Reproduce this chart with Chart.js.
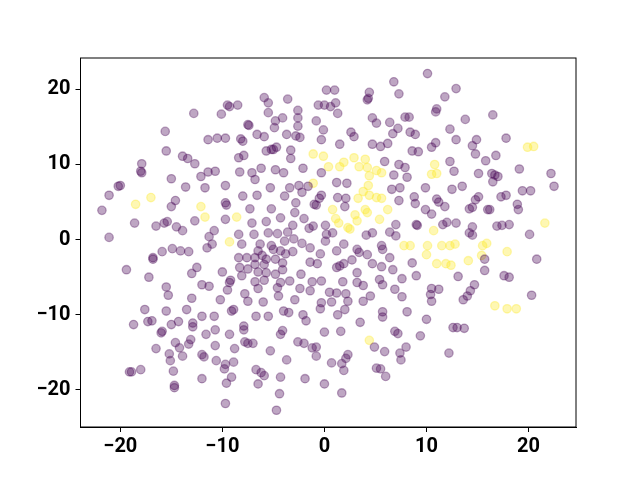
<!DOCTYPE html>
<html>
<head>
<meta charset="utf-8">
<script src="https://cdn.jsdelivr.net/npm/chart.js@4/dist/chart.umd.min.js"></script>
<style>
  html, body { margin: 0; padding: 0; background: #fff; }
  canvas { display: block; }
</style>
</head>
<body>
<canvas id="scatterChart" width="640" height="480"></canvas>
<script>
// class 0 (dark purple) points
const purple = [
  [-12.8,16.8],[-15.6,14.4],[-15.5,11.8],[-13.9,11.1],[-13.4,10.8],[-12.7,10.1],[-17.9,10.1],[-18.0,9.1],[-17.9,8.9],[-15.0,8.1],[-12.1,8.4],[-11.4,13.3],[-11.4,9.0],
  [-20.2,7.1],[-20.0,7.2],[-21.1,5.9],[-21.8,3.9],[-13.6,7.0],[-11.7,6.9],[-14.6,5.2],[-15.0,4.4],[-18.6,2.2],[-16.5,1.8],[-15.7,2.2],[-15.4,2.4],[-14.5,1.7],[-13.9,1.2],[-12.7,2.5],[-21.1,0.3],[-15.9,-1.6],[-16.8,-2.4],[-16.8,-2.6],[-14.9,-1.2],[-14.1,-1.5],[-13.3,-1.6],[-12.5,-3.7],[-13.0,-4.5],[-19.4,-4.0],[-17.2,-5.0],[-12.0,-6.0],[-15.5,-6.3],[-15.3,-7.4],[-13.0,-7.8],
  [-17.6,-9.3],[-15.5,-9.5],[-13.5,-9.3],[-12.0,-10.2],[-18.7,-11.3],[-17.3,-10.9],[-16.9,-10.8],[-15.9,-12.2],[-16.0,-12.4],[-15.0,-11.3],[-14.3,-10.9],[-12.9,-11.1],[-12.9,-11.6],[-16.5,-14.5],[-14.6,-13.7],[-14.2,-14.4],[-13.3,-13.9],[-13.1,-13.3],[-15.2,-15.2],[-15.1,-16.1],[-13.9,-15.5],[-12.0,-15.3],[-11.8,-15.6],[-19.1,-17.6],[-18.9,-17.6],[-18.0,-17.3],[-14.8,-17.5],[-14.7,-19.4],[-14.7,-19.7],[-12.0,-18.5],
  [-10.1,16.7],[-9.5,17.9],[-9.3,17.7],[-8.5,17.9],[-5.9,18.9],[-5.5,18.2],[-3.6,18.7],[0.2,19.9],[-0.6,17.9],[0.0,17.9],[0.6,17.7],[-5.5,16.9],[-4.1,16.2],[-4.8,15.8],[-4.9,14.9],[-2.6,17.2],[-2.6,16.2],[-2.6,15.1],[-0.8,15.8],[-7.5,15.3],[-7.4,15.2],[-0.1,14.6],[-6.6,14.0],[-5.9,13.7],[-3.7,14.0],[-2.8,13.8],[-2.4,13.6],[-0.3,13.3],[-10.5,13.5],[-9.7,13.5],[-8.2,13.4],[-8.0,13.1],[-5.7,11.8],[-5.2,12.0],[-4.7,12.3],[-5.0,12.0],[-3.3,11.9],[-3.3,10.8],[-8.4,10.9],[-7.9,11.2],[-6.2,9.5],[-7.1,8.9],[-8.3,9.0],[-10.7,9.1],[-4.8,9.3],[-4.0,8.9],[-2.1,9.5],[-0.3,8.9],[-6.8,8.0],
  [10.1,22.1],[6.8,21.0],[7.3,19.4],[1.0,19.9],[4.4,19.6],[4.2,18.6],[4.3,18.8],[1.1,18.2],[1.3,16.8],[11.8,19.0],[12.9,20.1],[11.0,17.4],[10.9,17.0],[4.7,16.2],[5.1,15.5],[6.4,15.6],[7.9,16.3],[8.3,16.3],[7.2,14.8],[6.7,14.1],[8.4,14.3],[8.9,14.0],[12.3,14.7],[12.9,13.3],[10.9,12.9],[10.5,12.3],[2.6,14.3],[2.9,13.7],[1.5,12.7],[4.7,12.7],[5.5,12.4],[6.2,12.8],[8.6,11.8],[9.2,11.7],[5.9,10.4],[7.3,10.0],[7.9,9.6],[6.8,8.6],[8.1,8.3],[12.3,10.4],[12.7,9.1],[1.2,7.6],[2.2,7.5],
  [16.5,16.6],[13.8,16.0],[17.8,13.5],[14.9,13.3],[14.5,12.5],[14.8,11.4],[15.8,10.5],[16.8,11.2],[19.1,9.4],[22.2,8.8],[15.1,8.8],[16.4,8.8],[16.7,8.6],[17.0,8.4],
  [-9.7,7.2],[-5.3,6.9],[-3.4,6.9],[-2.5,7.2],[-1.6,7.1],[-8.0,5.8],[-6.6,5.9],[-3.9,5.8],[-2.2,6.3],[-0.3,5.9],[-0.5,5.5],[-9.7,4.9],[-9.6,4.6],[-7.3,4.1],[-5.2,4.1],[-2.8,4.9],[-1.0,4.7],[-0.8,4.6],[-9.7,2.7],[-4.3,2.9],[-2.9,3.6],[-2.0,2.8],[-7.1,2.2],[-5.7,2.4],[-3.1,1.9],[-1.5,1.5],[-1.1,1.8],[0.1,1.9],[-10.8,1.2],[-8.4,0.7],[-6.9,0.7],[-5.5,0.9],[-4.6,0.8],[-3.6,1.0],[-11.3,0.4],[-8.1,-0.6],[-11.0,-0.6],[-6.3,-0.6],[-5.2,-0.8],[-5.0,-1.3],[-3.9,-0.2],[-3.0,0.1],[-2.2,-0.5],[-1.4,-1.1],[0.1,-0.2],[0.2,0.7],[-6.5,-1.5],[-6.1,-2.1],[-4.3,-1.5],[-3.8,-1.9],[-3.1,-1.6],[-0.4,-1.9],[-11.5,-1.1],[-8.4,-2.4],[-7.6,-2.4],[-6.8,-2.4],[-5.7,-2.6],[-4.8,-2.6],[-4.1,-3.1],[-5.9,-3.3],[-6.8,-3.3],[-8.3,-3.7],[-7.5,-3.9],[-1.4,-3.0],[-0.7,-3.2],[-10.0,-4.3],[-6.5,-4.3],[-5.7,-4.4],[-4.8,-4.6],[-4.1,-4.0],[-2.3,-4.6],[-8.1,-4.8],[-9.2,-5.4],[-6.8,-5.6],[-5.9,-5.4],[-4.3,-5.7],[-3.4,-5.5],[-1.2,-5.6],[-0.3,-5.5],[-11.3,-6.2],[-9.3,-5.7],[-9.5,-6.7],[-6.5,-6.5],[-4.6,-6.4],[-2.4,-6.5],[-1.4,-6.8],[0.5,-7.0],[-7.8,-7.2],[-4.5,-7.5],[-10.2,-8.0],[-7.5,-8.2],[-6.0,-8.3],[-2.9,-8.0],[-0.3,-8.4],
  [-10.8,-10.2],[-9.1,-9.5],[-8.9,-9.3],[-6.7,-10.2],[-5.5,-10.2],[-4.0,-9.5],[-3.5,-9.7],[-2.1,-10.0],[-1.8,-10.8],[-0.4,-9.2],[-11.6,-12.6],[-10.7,-12.0],[-9.3,-12.6],[-7.9,-11.5],[-7.9,-12.0],[-7.8,-13.6],[-7.5,-13.8],[-7.0,-13.8],[-10.7,-14.1],[-8.8,-14.5],[-10.6,-16.1],[-9.7,-16.6],[-9.8,-17.2],[-8.9,-16.3],[-9.1,-18.3],[-9.6,-19.1],[-9.7,-21.8],[-6.7,-17.3],[-6.2,-17.7],[-5.9,-18.1],[-6.5,-19.2],[-5.3,-14.8],[-4.1,-12.1],[-4.3,-12.6],[-3.7,-16.0],[-4.3,-18.3],[-4.4,-20.5],[-4.7,-22.7],[-2.6,-13.6],[-2.0,-13.8],[-1.2,-14.4],[-0.8,-14.3],[-0.8,-15.5],[0.0,-12.3],[-1.9,-18.5],[0.0,-19.2],
  [1.3,-10.0],[2.0,-9.3],[5.7,-9.6],[5.7,-10.3],[8.1,-9.6],[3.5,-11.0],[10.0,-10.6],[12.6,-11.7],[13.0,-11.7],[13.7,-11.8],[1.6,-12.2],[6.9,-12.2],[7.2,-12.5],[9.4,-12.8],[4.9,-14.3],[5.9,-14.9],[8.0,-14.3],[7.4,-15.1],[7.5,-16.0],[12.2,-15.1],[2.3,-15.3],[2.1,-15.8],[0.7,-16.4],[1.7,-16.5],[1.9,-17.4],[5.1,-17.1],[5.5,-17.2],[6.0,-18.2],[1.7,-20.4],
  [6.6,6.7],[7.4,6.9],[9.9,6.9],[12.5,6.7],[1.3,5.6],[2.1,5.5],[2.0,4.4],[7.3,5.2],[8.8,5.7],[8.9,4.8],[11.0,5.4],[11.2,5.0],[11.8,4.4],[9.9,4.0],[10.5,3.4],[7.0,2.0],[9.0,2.0],[9.1,1.9],[11.6,2.0],[12.0,2.3],[0.8,0.9],[4.1,0.6],[4.7,0.9],[6.4,1.0],[7.0,0.5],[1.9,-0.6],[1.2,-1.5],[3.2,-1.3],[3.4,-1.7],[4.2,-2.0],[5.6,-0.8],[5.7,-1.3],[2.7,-2.7],[1.9,-3.2],[1.2,-3.7],[1.5,-3.5],[4.7,-3.2],[5.6,-3.6],[6.4,-2.4],[8.6,-3.1],[3.2,-4.4],[6.7,-4.0],[9.0,-4.8],[1.8,-5.6],[3.2,-5.7],[3.8,-6.1],[5.4,-5.3],[5.7,-6.0],[7.6,-5.2],[4.5,-7.5],[6.9,-6.6],[7.6,-7.6],[10.5,-6.5],[11.2,-6.6],[10.4,-7.3],[10.5,-8.2],[1.2,-7.1],[2.1,-7.2],[2.3,-8.2],[3.8,-8.2],[0.7,-8.3],
  [13.5,7.1],[16.5,7.7],[19.4,6.5],[20.2,6.5],[22.5,7.1],[15.1,5.7],[14.8,5.3],[14.2,4.1],[14.5,4.3],[16.0,4.0],[16.2,4.0],[17.3,5.7],[17.8,5.9],[18.9,4.7],[19.0,4.0],[12.9,2.2],[14.5,1.7],[14.2,0.9],[14.5,0.6],[16.9,1.8],[17.4,1.9],[18.1,2.0],[20.1,0.7],[15.7,-2.6],[20.8,-2.6],[15.7,-4.1],[13.1,-4.9],[17.6,-4.8],[18.1,-5.0],[14.7,-6.0],[14.3,-6.8],[14.0,-7.5],[13.6,-8.0],[20.3,-7.4]
];

// class 1 (yellow) points
const yellow = [
  [-1.1,11.4],[-0.1,11.1],[0.4,9.7],[-1.1,7.5],[2.9,10.9],[1.9,10.3],[1.5,9.7],[4.0,10.7],[3.4,9.7],[4.2,9.6],[5.1,9.2],[5.6,8.9],[4.4,8.5],[10.8,10.0],[10.5,8.7],[11.0,8.8],[19.9,12.3],[20.5,12.4],
  [-17.0,5.6],[-18.5,4.7],[-12.1,4.4],[-11.7,3.0],[-8.6,3.0],[-9.3,-0.3],
  [4.3,7.2],[3.8,6.4],[4.4,5.9],[5.1,5.6],[5.6,5.5],[3.3,5.5],[0.8,4.0],[1.1,2.8],[1.4,2.2],[3.0,3.3],[3.2,2.5],[4.0,4.0],[4.2,3.6],[5.4,2.7],[6.2,4.0],[2.3,1.6],[2.5,1.4],
  [10.7,1.2],[7.8,-0.8],[8.4,-0.8],[10.1,-0.8],[10.0,-2.0],[11.5,-0.8],[12.3,-0.8],[12.8,-0.6],[11.0,-3.2],[11.9,-3.2],[12.4,-3.4],
  [21.6,2.2],[15.5,-0.8],[15.9,-0.5],[15.4,-2.1],[14.1,-2.8],[17.9,-1.6],[16.7,-8.8],[17.9,-9.2],[18.8,-9.2],[4.4,-13.4]
];

const xTicks = [-20, -10, 0, 10, 20];
const yTicks = [-20, -10, 0, 10, 20];

const frameBox = {
    id: 'frameBox',
    afterDraw(chart) {
        const a = chart.chartArea;
        const c = chart.ctx;
        c.save();
        c.strokeStyle = '#000';
        c.lineWidth = 1;
        c.strokeRect(a.left, a.top, a.right - a.left, a.bottom - a.top);
        c.restore();
    }
};

const tickFont = { family: 'Roboto', size: 20, weight: 'bold' };
const minus = v => String(v).replace('-', '\u2212');

const ctx = document.getElementById('scatterChart').getContext('2d');
const myChart = new Chart(ctx, {
    type: 'scatter',
    data: {
        datasets: [
            {
                data: purple.map(p => ({ x: p[0], y: p[1] })),
                backgroundColor: 'rgba(68, 1, 84, 0.35)',
                borderColor: 'rgba(68, 1, 84, 0.35)',
                borderWidth: 1.3,
                pointRadius: 4.2
            },
            {
                data: yellow.map(p => ({ x: p[0], y: p[1] })),
                backgroundColor: 'rgba(253, 231, 37, 0.35)',
                borderColor: 'rgba(253, 231, 37, 0.35)',
                borderWidth: 1.3,
                pointRadius: 4.2
            }
        ]
    },
    options: {
        responsive: false,
        animation: false,
        layout: { padding: { left: 0, right: 64, top: 58, bottom: 13 } },
        plugins: { legend: { display: false }, tooltip: { enabled: false } },
        scales: {
            x: {
                min: -23.9,
                max: 24.65,
                afterBuildTicks: s => { s.ticks = xTicks.map(v => ({ value: v })); },
                afterFit: s => { s.height = 40; },
                grid: { drawOnChartArea: false, tickLength: 5, tickColor: '#000' },
                border: { color: '#000', width: 1 },
                ticks: { color: '#000', font: tickFont, padding: 3, maxRotation: 0, callback: minus }
            },
            y: {
                min: -24.93,
                max: 24.17,
                afterBuildTicks: s => { s.ticks = yTicks.map(v => ({ value: v })); },
                afterFit: s => { s.width = 80.5; },
                grid: { drawOnChartArea: false, tickLength: 5, tickColor: '#000' },
                border: { color: '#000', width: 1 },
                ticks: { color: '#000', font: tickFont, padding: 5, callback: minus }
            }
        }
    },
    plugins: [frameBox]
});
</script>
</body>
</html>
